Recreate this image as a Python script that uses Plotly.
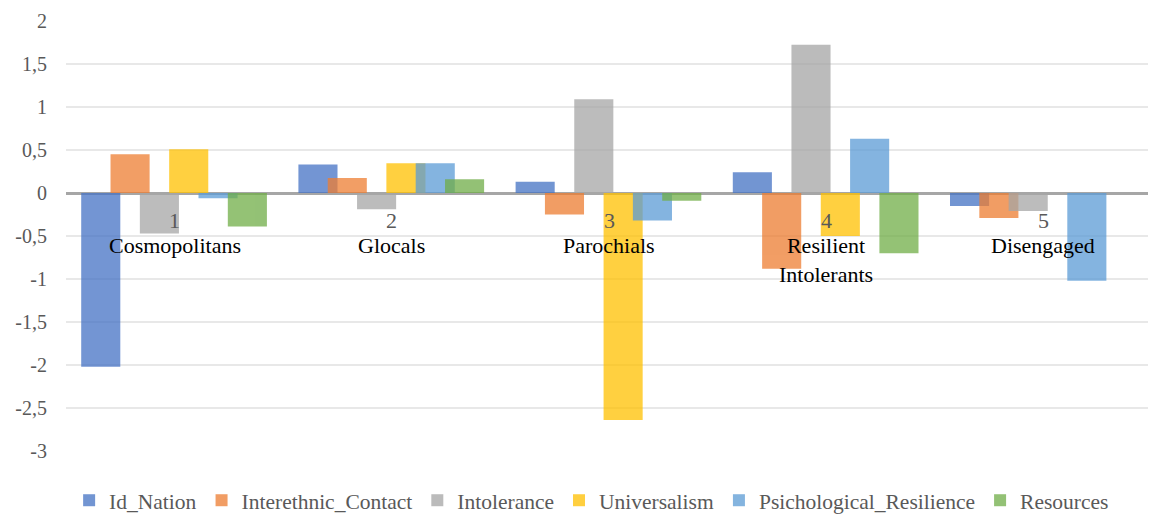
import plotly.graph_objects as go

categories = ["Cosmopolitans", "Glocals", "Parochials", "Resilient<br>Intolerants", "Disengaged"]
cluster_numbers = ["1", "2", "3", "4", "5"]

series_names = ["Id_Nation", "Interethnic_Contact", "Intolerance", "Universalism",
                "Psichological_Resilience", "Resources"]

id_nation = [-2.02, 0.33, 0.13, 0.24, -0.15]
interethnic_contact = [0.45, 0.175, -0.25, -0.88, -0.29]
intolerance = [-0.47, -0.19, 1.09, 1.725, -0.21]
universalism = [0.51, 0.345, -2.64, -0.50, 0.0]
psichological_resilience = [-0.06, 0.345, -0.32, 0.63, -1.02]
resources = [-0.39, 0.16, -0.09, -0.70, 0.0]

y_tickvals = [-3, -2.5, -2, -1.5, -1, -0.5, 0, 0.5, 1, 1.5, 2]
y_ticktext = ["-3", "-2,5", "-2", "-1,5", "-1", "-0,5", "0", "0,5", "1", "1,5", "2"]

series_values = [id_nation, interethnic_contact, intolerance, universalism,
                 psichological_resilience, resources]
colors = ["#4472C4", "#ED7D31", "#A5A5A5", "#FFC000", "#5B9BD5", "#70AD47"]

FONT = "Liberation Serif, Times New Roman, DejaVu Serif, serif"
x = list(range(len(categories)))
bar_w = 0.18
step = 0.135
first = -0.43

fig = go.Figure()
for i, (name, vals, col) in enumerate(zip(series_names, series_values, colors)):
    fig.add_trace(go.Bar(
        x=x, y=vals, name=name,
        marker=dict(color=col, line=dict(width=0)),
        opacity=0.75,
        width=bar_w, offset=first + i * step,
    ))

for xi, (num, cat) in enumerate(zip(cluster_numbers, categories)):
    fig.add_annotation(
        x=xi, y=0, xref="x", yref="y", text=num,
        showarrow=False, yanchor="middle", yshift=-27,
        font=dict(family=FONT, size=22, color="#595959"),
    )
    fig.add_annotation(
        x=xi, y=0, xref="x", yref="y", text=cat,
        showarrow=False, yanchor="top", yshift=-38,
        font=dict(family=FONT, size=22, color="#000000"),
        align="center",
    )

fig.update_layout(
    width=1148, height=508,
    margin=dict(l=58, r=4, t=13, b=65, autoexpand=False),
    paper_bgcolor="white", plot_bgcolor="white",
    barmode="overlay",
    font=dict(family=FONT, size=20, color="#595959"),
    showlegend=True,
    legend=dict(orientation="h", x=0.484, xanchor="center",
                yref="container", y=0.031, yanchor="middle",
                font=dict(family=FONT, size=21.5, color="#595959"),
                itemwidth=30, tracegroupgap=0),
    xaxis=dict(range=[-0.5, 4.5], showticklabels=False, showgrid=False,
               zeroline=False, showline=False, fixedrange=True),
    yaxis=dict(range=[-3, 2], tickvals=y_tickvals, ticktext=y_ticktext,
               showgrid=True, gridcolor="#E8E8E8", gridwidth=1.5,
               zeroline=True, zerolinecolor="#A6A6A6", zerolinewidth=2.5,
               showline=False, ticklabelstandoff=18,
               tickfont=dict(family=FONT, size=20, color="#595959")),
)

fig.write_html("out.html")
